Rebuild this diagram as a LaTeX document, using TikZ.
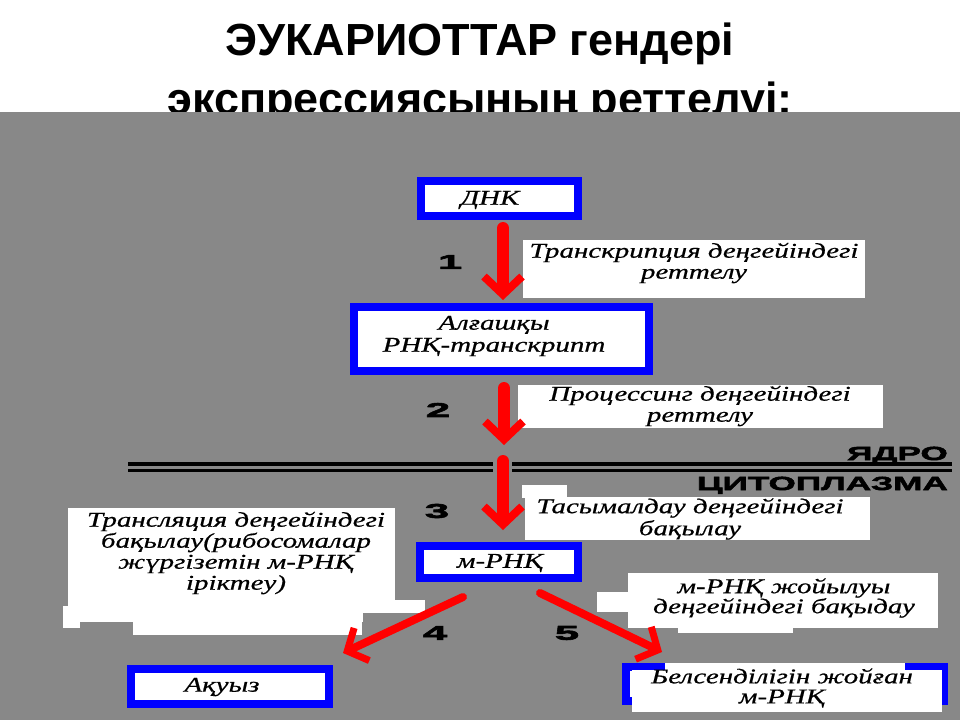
\documentclass[tikz,border=0pt]{standalone}
\usepackage{fontspec}
\setmainfont{Liberation Serif}
\newfontfamily\titlef{Liberation Sans}
\newfontfamily\boxf[FakeStretch=1.38,FakeBold=0.6]{Liberation Serif}
\newfontfamily\heavyf[FakeStretch=1.85,FakeBold=3]{Liberation Sans}
\newfontfamily\numf[FakeStretch=2.2,FakeBold=3]{Liberation Sans}
\usetikzlibrary{arrows.meta}
\definecolor{bg}{RGB}{136,136,136}
\definecolor{bblue}{RGB}{0,0,255}
\definecolor{rred}{RGB}{255,0,0}
\tikzset{
  bluebox/.style={draw=bblue, line width=8pt, fill=white, inner sep=0pt},
  whitebox/.style={fill=white, inner sep=0pt},
  boxtext/.style={font=\boxf\itshape\fontsize{21}{21}\selectfont, align=center, inner sep=0pt},
  numlabel/.style={font=\numf\bfseries\fontsize{20}{20}\selectfont, inner sep=0pt},
  zonelabel/.style={font=\heavyf\bfseries\fontsize{19}{19}\selectfont, inner sep=0pt, anchor=base east},
  redarrow/.style={draw=rred, line width=12pt, line cap=round, -{Straight Barb[length=18pt,width=38pt,line width=8pt]}},
  diagarrow/.style={draw=rred, line width=8pt, line cap=round, -{Straight Barb[length=16pt,width=36pt,line width=7pt]}},
  membrane/.style={draw=black, line width=3.5pt, double=bg, double distance=3pt},
  titletext/.style={font=\titlef\bfseries\fontsize{45}{45}\selectfont, inner sep=0pt, anchor=base},
}
\begin{document}
\begin{tikzpicture}[x=1pt,y=-1pt]
\useasboundingbox (0,0) rectangle (960,720);
\fill[white] (0,0) rectangle (960,720);
% title
\node[titletext] (t1) at (480,55) {ЭУКАРИОТТАР гендері};
\node[titletext] (t2) at (480,114) {экспрессиясының реттелуі:};
\fill[bg] (0,112) rectangle (960,720);

% membrane
\coordinate (mL1) at (128,467);
\coordinate (mL2) at (493,467);
\coordinate (mR1) at (512,467);
\coordinate (mR2) at (952,467);
\draw[membrane] (mL1) -- (mL2);
\draw[membrane] (mR1) -- (mR2);
\node[zonelabel] (nuc) at (948,460) {ЯДРО};
\node[zonelabel] (cyt) at (948,490) {ЦИТОПЛАЗМА};

% white label boxes
\node[whitebox, minimum width=342pt, minimum height=58pt] (w1) at (694,269) {};
\node[boxtext] (w1t) at (694,263) {Транскрипция деңгейіндегі\\реттелу};
\node[whitebox, minimum width=365pt, minimum height=43pt] (w2) at (700.5,406.5) {};
\node[boxtext] (w2t) at (700,406) {Процессинг деңгейіндегі\\реттелу};
\fill[white] (522,485) rectangle (567,498);
\node[whitebox, minimum width=345pt, minimum height=43pt] (w3) at (697.5,518.5) {};
\node[boxtext, font=\boxf\itshape\fontsize{21}{22}\selectfont] (w3t) at (690,519) {Тасымалдау деңгейіндегі\\бақылау};
% left translation label (irregular white patch)
\fill[white] (68,508) rectangle (395,608);
\fill[white] (63,606) rectangle (363,622);
\fill[white] (133,606) rectangle (362,635);
\fill[white] (63,606) rectangle (80,628);
\fill[white] (363,600) rectangle (425,613);
\node[boxtext] (w4t) at (236,553) {Трансляция деңгейіндегі\\бақылау(рибосомалар\\жүргізетін м-РНҚ\\іріктеу)};
% destruction label
\fill[white] (597,592) rectangle (630,612);
\fill[white] (678,620) rectangle (793,633);
\node[whitebox, minimum width=310pt, minimum height=55pt] (w5) at (783,600.5) {};
\node[boxtext, font=\boxf\itshape\fontsize{21}{20}\selectfont] (w5t) at (784,598) {м-РНҚ жойылуы\\деңгейіндегі бақыдау};

% blue boxes
\node[bluebox, minimum width=157pt, minimum height=35pt] (dna) at (499.5,198.5) {};
\node[boxtext] (dnat) at (490,200) {ДНК};
\node[bluebox, minimum width=295pt, minimum height=64pt] (pre) at (501.5,339) {};
\node[boxtext, font=\boxf\itshape\fontsize{21}{22}\selectfont] (pret) at (494,336) {Алғашқы\\РНҚ-транскрипт};
\node[bluebox, minimum width=158pt, minimum height=32pt] (mrna) at (499,562) {};
\node[boxtext] (mrnat) at (500,563) {м-РНҚ};
\node[bluebox, minimum width=198pt, minimum height=35pt] (prot) at (230,686.5) {};
\node[boxtext] (prott) at (222,687) {Ақуыз};
\node[bluebox, minimum width=318pt, minimum height=34pt] (inact) at (785,684) {};
\fill[white] (665,663) rectangle (905,712);
\fill[white] (632,670) rectangle (942,712);
\node[boxtext, font=\boxf\itshape\fontsize{21}{20}\selectfont] (inactt) at (782,688) {Белсенділігін жойған\\м-РНҚ};

% arrows
\coordinate (memtop) at (504,445);
\coordinate (membot) at (503,461);
\draw[redarrow] ([xshift=3.5pt,yshift=-8pt]dna.south) -- ([xshift=1.5pt,yshift=3pt]pre.north);
\draw[redarrow] ([xshift=2.5pt,yshift=-13pt]pre.south) -- (memtop);
\draw[redarrow] (membot) -- ([xshift=4pt,yshift=12pt]mrna.north);
\draw[diagarrow] ([xshift=-36pt,yshift=-15pt]mrna.south) -- ([xshift=113pt,yshift=12pt]prot.north);
\draw[diagarrow] ([xshift=41pt,yshift=-11pt]mrna.south) -- ([xshift=-123pt,yshift=11pt]inact.north);

% step numbers
\node[numlabel] (n1) at (450,262) {1};
\node[numlabel] (n2) at (438,410) {2};
\node[numlabel] (n3) at (437,511) {3};
\node[numlabel] (n4) at (435,633) {4};
\node[numlabel] (n5) at (567,633) {5};
\end{tikzpicture}
\end{document}
